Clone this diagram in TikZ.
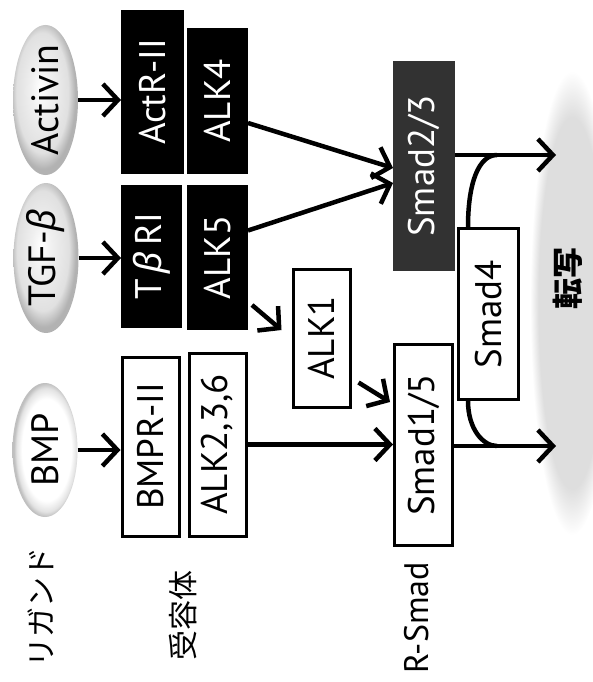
\documentclass[tikz,border=0pt]{standalone}
\usepackage{fix-cm}
\usepackage{fontspec}
\setmainfont{PT Sans}
\newfontfamily\jpfont{Noto Sans CJK JP}
\newfontfamily\grkfont{Noto Sans}
\usepackage{xcolor}
\usepackage{tikz}
\usetikzlibrary{arrows.meta, positioning, shapes.geometric, calc}
\definecolor{smadgray}{HTML}{323232}
\definecolor{cloudgray}{HTML}{DEDEDE}
\newcommand{\vtext}[1]{\rotatebox{90}{#1}}
\newcommand{\gbeta}{{\grkfont\itshape β}}
\newcommand{\boxfont}{\fontsize{37}{42}\selectfont}
\newcommand{\ligfont}{\fontsize{38}{42}\selectfont}
\pgfdeclareradialshading{ligandshade}{\pgfpoint{-4bp}{4bp}}{color(0bp)=(white); color(8bp)=(gray!12); color(20bp)=(gray!24); color(25bp)=(gray!60); color(50bp)=(gray!60)}
\pgfdeclareradialshading{bmpshade}{\pgfpoint{2bp}{0bp}}{color(0bp)=(white); color(19bp)=(white); color(23bp)=(gray!22); color(25bp)=(gray!50); color(50bp)=(gray!50)}
\pgfdeclareradialshading{cloudshade}{\pgfpoint{0bp}{0bp}}{color(0bp)=(cloudgray); color(20bp)=(cloudgray); color(25bp)=(white); color(50bp)=(white)}

\begin{document}
\begin{tikzpicture}[x=1pt, y=-1pt,
  ligand/.style={ellipse, minimum width=65pt, inner sep=-14pt, font=\ligfont},
  darkbox/.style={rectangle, fill=black, draw=black, line width=1pt, text=white,
    inner sep=0pt, font=\boxfont},
  lightbox/.style={rectangle, fill=white, draw=black, line width=3pt,
    inner sep=0pt, font=\boxfont},
  rowlabel/.style={inner sep=0pt, font=\jpfont\fontsize{30}{34}\selectfont},
  arr/.style={-{Straight Barb[length=15pt, width=32pt]}, line width=4.5pt},
  link/.style={line width=4.5pt},
]
  \useasboundingbox (0,0) rectangle (593,682);
  % transcription area
  \shade[shading=cloudshade] (572,303) ellipse [x radius=42, y radius=232];
  \node[rowlabel, font=\jpfont\bfseries\fontsize{31}{34}\selectfont] (tensha) at (568,278) {\vtext{転写}};

  % ligands
  \node[ligand, minimum height=150pt, shading=ligandshade] (activin) at (45.5,100) {\vtext{Activin}};
  \node[ligand, minimum height=150pt, shading=ligandshade] (tgfb) at (46,258) {\vtext{TGF-\gbeta}};
  \node[ligand, minimum height=134pt, shading=bmpshade] (bmp) at (45,450) {\vtext{BMP}};

  % receptors
  \node[darkbox, minimum width=62pt, minimum height=163pt] (actr) at (152.5,92) {\vtext{ActR-II}};
  \node[darkbox, minimum width=60pt, minimum height=145pt] (alk4) at (217.5,101) {\vtext{ALK4}};
  \node[darkbox, minimum width=60pt, minimum height=142pt] (tbr) at (151.5,256.5) {\vtext{T\,\gbeta\,RI}};
  \node[darkbox, minimum width=60pt, minimum height=144pt] (alk5) at (217.5,257.5) {\vtext{ALK5}};
  \node[lightbox, minimum width=57pt, minimum height=179pt] (bmpr) at (150.5,446.5) {\vtext{BMPR-II}};
  \node[lightbox, minimum width=57pt, minimum height=183pt] (alk236) at (217.5,444.5) {\vtext{ALK2,3,6}};
  \node[lightbox, minimum width=57pt, minimum height=138pt] (alk1) at (321.5,338) {\vtext{ALK1}};

  % smads
  \node[darkbox, fill=smadgray, draw=smadgray, minimum width=61pt, minimum height=209pt] (smad23) at (424,166) {\vtext{Smad2/3}};
  \node[lightbox, minimum width=60pt, minimum height=171pt] (smad4) at (488.5,314) {\vtext{Smad4}};
  \node[lightbox, minimum width=58pt, minimum height=201pt] (smad15) at (423.5,445) {\vtext{Smad1/5}};

  % row labels
  \node[rowlabel] (ligandlabel) at (41,607) {\vtext{リガンド}};
  \node[rowlabel] (receptorlabel) at (183,615) {\vtext{受容体}};
  \node[inner sep=0pt, font=\fontsize{34}{38}\selectfont] (rsmadlabel) at (417,618) {\vtext{R-Smad}};

  \coordinate (out23) at (556,155);
  \coordinate (out15) at (556,446);
  \coordinate (j23) at (497,155);
  \coordinate (j15) at (497,446);

  % signalling
  \draw[arr] (activin.east) -- (actr.west |- activin.east);
  \draw[arr] (tgfb.east) -- (tbr.west |- tgfb.east);
  \draw[arr] (bmp.east) -- (bmpr.west |- bmp.east);
  \draw[arr] ($(alk4.east)+(0,22)$) -- ($(smad23.west)+(0,2)$);
  \draw[arr] ($(alk5.east)+(0,-27)$) -- ($(smad23.west)+(0,17)$);
  \draw[arr] ($(alk5.south east)+(4,-25)$) -- ($(alk1.west)+(-10,-8)$);
  \draw[arr] ($(alk1.south east)+(7,-26)$) -- ($(smad15.west)+(-3,-43)$);
  \draw[arr] (alk236.east) -- (smad15.west |- alk236.east);
  \draw[arr] (smad23.east |- out23) -- (out23);
  \draw[arr] (smad15.east |- out15) -- (out15);
  \draw[link] ($(smad4.north west)+(11,0)$) .. controls +(0,-45) and +(-18,0) .. (j23);
  \draw[link] ($(smad4.south west)+(11,0)$) .. controls +(0,28) and +(-14,0) .. (j15);
\end{tikzpicture}
\end{document}
